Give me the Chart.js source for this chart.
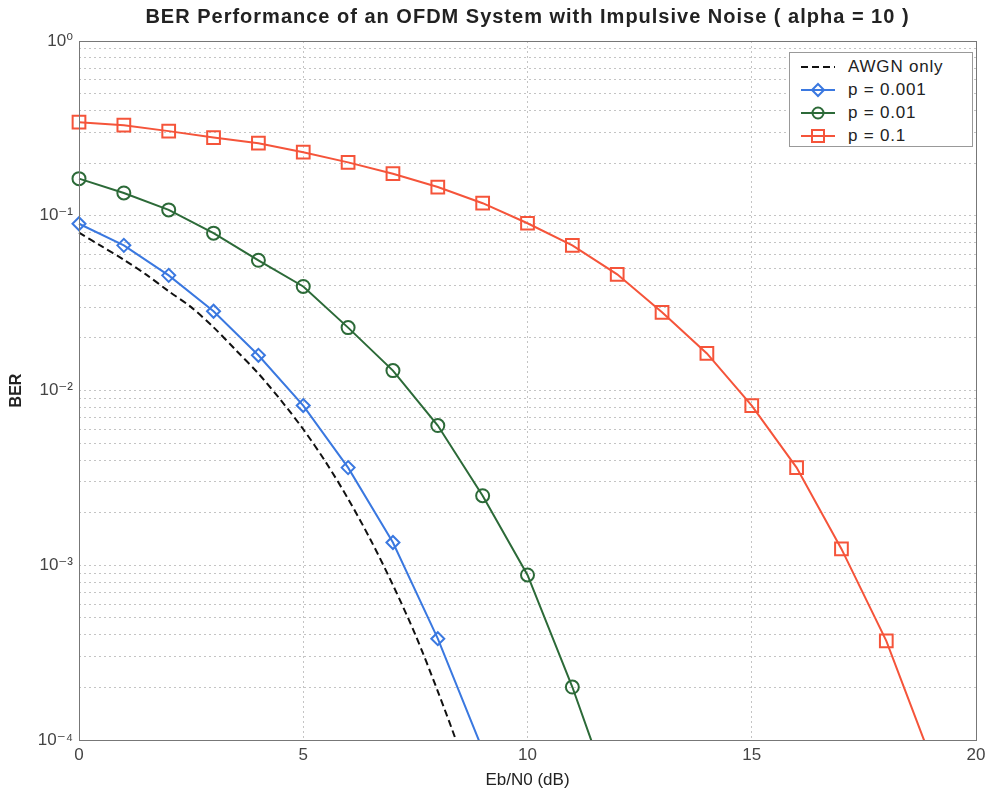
<!DOCTYPE html>
<html>
<head>
<meta charset="utf-8">
<script src="https://cdn.jsdelivr.net/npm/chart.js@4.4.1/dist/chart.umd.min.js"></script>
<style>
  body { margin: 0; background: #fff; font-family: "Liberation Sans", Arial, sans-serif; }
  #wrap { position: relative; width: 991px; height: 794px; }
  #title { position: absolute; left: 79px; width: 897px; top: 5px; text-align: center;
           font-weight: bold; font-size: 20px; letter-spacing: 1px; color: #222; }
  #legend { position: absolute; left: 789px; top: 52px; width: 184px; height: 95px;
            border: 1px solid #999; background: #fff; box-sizing: border-box; padding-top: 2px; }
  .row { display: flex; align-items: center; height: 23px; font-size: 17px; letter-spacing: 0.8px; color: #222; }
  .row svg { margin-left: 10px; margin-right: 12px; }
</style>
</head>
<body>
<div id="wrap">
  <canvas id="berChart" width="991" height="794"></canvas>
  <div id="title">BER Performance of an OFDM System with Impulsive Noise ( alpha = 10 )</div>
  <div id="legend"></div>
</div>
<script>
// Eb/N0 points (dB)
const ebno = [0, 1, 2, 3, 4, 5, 6, 7, 8, 9, 10, 11, 12, 13, 14, 15, 16, 17, 18, 19];
const ebnoFine = [0, 0.5, 1, 1.5, 2, 2.5, 3, 3.5, 4, 4.5, 5, 5.5, 6, 6.5, 7, 7.5, 8, 8.5, 9];

// BER values
const berAwgn = [0.080, 0.067, 0.056, 0.046, 0.037, 0.030, 0.023, 0.017, 0.0125, 0.0088,
                 0.0060, 0.0039, 0.0024, 0.0014, 0.00077, 0.00040, 0.00019, 0.000085, 0.000034];
const berP0001 = [0.090, 0.0677, 0.0456, 0.0284, 0.0159, 0.0082, 0.00362, 0.00135, 0.00038, 0.000088];
const berP001 = [0.163, 0.135, 0.108, 0.0795, 0.0556, 0.0394, 0.0229, 0.0130, 0.0063, 0.0025,
                 0.00088, 0.000201, 0.000038];
const berP01 = [0.343, 0.330, 0.305, 0.280, 0.260, 0.231, 0.202, 0.174, 0.146, 0.118,
                0.0906, 0.0677, 0.0462, 0.0280, 0.0163, 0.0082, 0.00362, 0.00124, 0.000369, 0.000078];

const seriesNames = ['AWGN only', 'p = 0.001', 'p = 0.01', 'p = 0.1'];
const xTicks = [0, 5, 10, 15, 20];
const yMin = 0.0001, yMax = 1;
const yTicks = [];
for (let e = -4; e < 0; e++) {
  for (let m = 1; m < 10; m++) yTicks.push(+(m * Math.pow(10, e)).toPrecision(3));
}
yTicks.push(1);
const yTickLabels = { 1: '10\u2070', 0.1: '10\u207B\u00B9', 0.01: '10\u207B\u00B2', 0.001: '10\u207B\u00B3', 0.0001: '10\u207B\u2074' };

const blue = '#3a78e0', green = '#2c6a38', red = '#f5543a';

function toPoints(xs, ys) {
  return ys.map((y, i) => ({ x: xs[i], y: y }));
}
// hide markers that fall below the axis
function radius(r) {
  return ctx => (ctx.raw && ctx.raw.y < yMin) ? 0 : r;
}

const clipBox = { left: 12, top: 12, right: 12, bottom: 0 };

const datasets = [
  { label: seriesNames[0], data: toPoints(ebnoFine, berAwgn), borderColor: '#111', borderDash: [7, 4],
    borderWidth: 2, pointRadius: 0, tension: 0.3, clip: clipBox },
  { label: seriesNames[1], data: toPoints(ebno, berP0001), borderColor: blue, borderWidth: 2,
    pointStyle: 'rectRot', pointRadius: radius(6.5), pointBorderWidth: 2, pointBackgroundColor: 'transparent', clip: clipBox },
  { label: seriesNames[2], data: toPoints(ebno, berP001), borderColor: green, borderWidth: 2,
    pointStyle: 'circle', pointRadius: radius(6.5), pointBorderWidth: 2, pointBackgroundColor: 'transparent', clip: clipBox },
  { label: seriesNames[3], data: toPoints(ebno, berP01), borderColor: red, borderWidth: 2,
    pointStyle: 'rect', pointRadius: radius(9), pointBorderWidth: 2, pointBackgroundColor: 'transparent', clip: clipBox }
];

// full box around the plot, like matlab axes
const boxPlugin = {
  id: 'box',
  afterDraw(chart) {
    const a = chart.chartArea, ctx = chart.ctx;
    ctx.save();
    ctx.strokeStyle = '#777';
    ctx.lineWidth = 1;
    ctx.strokeRect(Math.round(a.left) + 0.5, Math.round(a.top) + 0.5, Math.round(a.right - a.left), Math.round(a.bottom - a.top));
    ctx.restore();
  }
};

const gridStyle = { color: '#c4c4c4', lineWidth: 1, drawTicks: false };
const fontFamily = '"Liberation Sans", "DejaVu Sans", Arial';

new Chart(document.getElementById('berChart'), {
  type: 'line',
  data: { datasets: datasets },
  plugins: [boxPlugin],
  options: {
    responsive: false,
    animation: false,
    layout: { padding: { top: 41, right: 15, left: 0, bottom: 0 } },
    plugins: { legend: { display: false }, title: { display: false }, tooltip: { enabled: false } },
    scales: {
      x: {
        type: 'linear', min: 0, max: 20,
        afterBuildTicks: s => { s.ticks = xTicks.map(v => ({ value: v })); },
        afterFit: s => { s.height = 54; },
        grid: gridStyle,
        border: { display: false, dash: [2, 3] },
        ticks: { font: { family: fontFamily, size: 17 }, color: '#444', padding: 5 },
        title: { display: true, text: 'Eb/N0 (dB)', font: { family: fontFamily, size: 17 }, color: '#222',
                 padding: { top: 0, bottom: 3 } }
      },
      y: {
        type: 'logarithmic', min: yMin, max: yMax,
        afterBuildTicks: s => { s.ticks = yTicks.map(v => ({ value: v })); },
        afterFit: s => { s.width = 79; },
        grid: gridStyle,
        border: { display: false, dash: [2, 3] },
        ticks: {
          autoSkip: false, font: { family: fontFamily, size: 17 }, color: '#444', padding: 6,
          callback: v => yTickLabels[v] || ''
        },
        title: { display: true, text: 'BER', font: { family: fontFamily, size: 16, weight: 'bold' },
                 color: '#222', padding: { top: 7, bottom: 0 } }
      }
    }
  }
});

// legend drawn as html on top of the plot
const legendEl = document.getElementById('legend');
const markers = [
  '',
  `<polygon points="18,2 24,8 18,14 12,8" fill="none" stroke="${blue}" stroke-width="2"/>`,
  `<circle cx="18" cy="8" r="5.5" fill="none" stroke="${green}" stroke-width="2"/>`,
  `<rect x="12" y="2" width="12" height="12" fill="none" stroke="${red}" stroke-width="2"/>`
];
const lineCols = ['#111', blue, green, red];
seriesNames.forEach((name, i) => {
  const dash = i === 0 ? 'stroke-dasharray="7,4"' : '';
  const row = document.createElement('div');
  row.className = 'row';
  row.innerHTML = `<svg width="36" height="16"><line x1="1" y1="8" x2="35" y2="8" stroke="${lineCols[i]}" stroke-width="2" ${dash}/>${markers[i]}</svg><span>${name}</span>`;
  legendEl.appendChild(row);
});
</script>
</body>
</html>
